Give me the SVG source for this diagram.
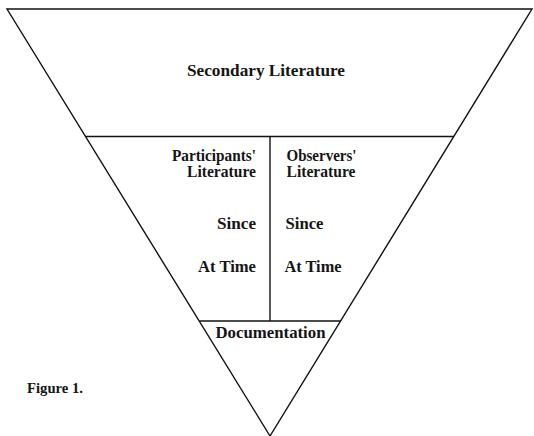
<svg xmlns="http://www.w3.org/2000/svg" width="534" height="436" viewBox="0 0 534 436">
  <style>
    .edge { fill: none; stroke: #111; stroke-width: 1.4; stroke-linejoin: miter; }
    .lbl { font-family: "Liberation Serif", "Times New Roman", serif; font-weight: bold; font-size: 16px; fill: #151515; }
    .end { text-anchor: end; }
    .mid { text-anchor: middle; }
    .cap { font-size: 14px; }
  </style>
  <rect width="534" height="436" fill="#fff"/>

  <!-- outer funnel and dividing rules -->
  <g id="connectors">
    <path class="edge" d="M7,9 L532,9 L270,436 Z"/>
    <line class="edge" x1="85.5" y1="136.5" x2="454" y2="136.5"/>
    <line class="edge" x1="270" y1="136.5" x2="270" y2="321"/>
    <line class="edge" x1="199.5" y1="321" x2="341" y2="321"/>
  </g>

  <g id="secondary">
    <text class="lbl mid" x="266" y="76" textLength="158" lengthAdjust="spacingAndGlyphs">Secondary Literature</text>
  </g>

  <g id="participants">
    <text class="lbl end" x="256" y="160.5" textLength="84" lengthAdjust="spacingAndGlyphs">Participants'</text>
    <text class="lbl end" x="256" y="177" textLength="69" lengthAdjust="spacingAndGlyphs">Literature</text>
    <text class="lbl end" x="256" y="229" textLength="39" lengthAdjust="spacingAndGlyphs">Since</text>
    <text class="lbl end" x="256" y="271.5" textLength="58" lengthAdjust="spacingAndGlyphs">At Time</text>
  </g>

  <g id="observers">
    <text class="lbl" x="286.5" y="160.5" textLength="70" lengthAdjust="spacingAndGlyphs">Observers'</text>
    <text class="lbl" x="286.5" y="177" textLength="69" lengthAdjust="spacingAndGlyphs">Literature</text>
    <text class="lbl" x="285.5" y="229" textLength="38" lengthAdjust="spacingAndGlyphs">Since</text>
    <text class="lbl" x="284.5" y="271.5" textLength="57" lengthAdjust="spacingAndGlyphs">At Time</text>
  </g>

  <g id="documentation">
    <text class="lbl mid" x="270.5" y="337.5" textLength="110" lengthAdjust="spacingAndGlyphs">Documentation</text>
  </g>

  <text class="lbl cap" x="27" y="392.5" textLength="56" lengthAdjust="spacingAndGlyphs">Figure 1.</text>
</svg>
